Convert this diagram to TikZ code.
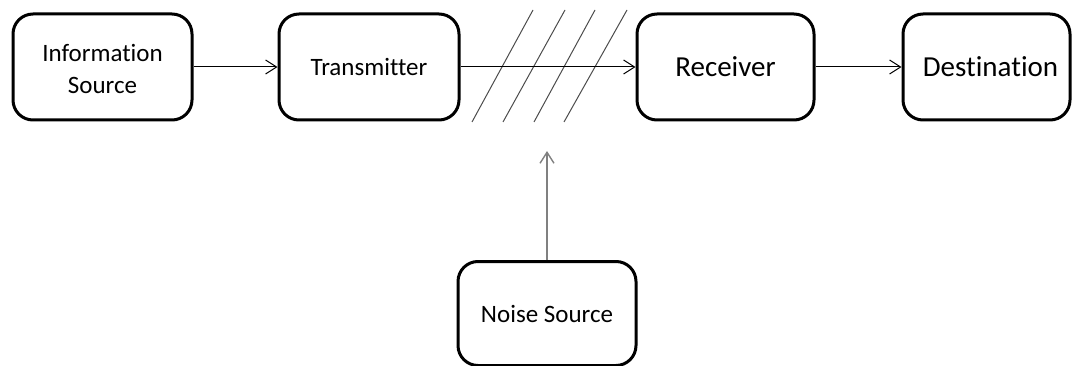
\documentclass[tikz,border=0pt]{standalone}
\usepackage{fontspec}
\setmainfont[Ligatures=NoCommon]{Carlito}
\usetikzlibrary{arrows.meta}
\begin{document}
\begin{tikzpicture}[x=1pt,y=-1pt,
  block/.style={draw=black, line width=3pt, rounded corners=20pt, fill=white,
    align=center, inner sep=0pt},
  smalltext/.style={font=\fontsize{25}{32}\selectfont},
  bigtext/.style={font=\fontsize{29}{35}\selectfont},
  flow/.style={draw=black, line width=1pt, -{Straight Barb[length=11pt,width=14pt,line width=1pt]}},
  noiseflow/.style={draw=black!50, line width=1.6pt, -{Straight Barb[length=11pt,width=14pt,line width=1.4pt]}},
  hatch/.style={draw=black!70, line width=1pt}]
\useasboundingbox (0,0) rectangle (1073,366);

% blocks of the chain
\node[block, smalltext, minimum width=179pt, minimum height=106pt] (info) at (102.5,67) {\vphantom{Ag}\\[-26pt]Information\\Source};
\node[block, smalltext, minimum width=180pt, minimum height=106pt] (tx) at (369,67) {Transmitter};
\node[block, bigtext, minimum width=177pt, minimum height=106pt] (rx) at (725.5,67) {Receiver};
\node[block, bigtext, minimum width=167pt, minimum height=106pt] (dest) at (986.5,67) {\hspace*{8pt}Destination};
\node[block, smalltext, minimum width=178pt, minimum height=104pt, anchor=north] (noise) at (547,260) {\raisebox{-5pt}{Noise Source}};

% channel hatching
\foreach \xb/\xt in {472/533, 503/565, 534/595, 564/627}
  \draw[hatch] (\xb,122) -- (\xt,10);

% connectors
\draw[flow] (info.east) -- (tx.west);
\draw[flow] (tx.east) -- (rx.west);
\draw[flow] (rx.east) -- (dest.west);
\coordinate (noisetip) at (547,151);
\draw[noiseflow] (noise.north) -- (noisetip);
\end{tikzpicture}
\end{document}
